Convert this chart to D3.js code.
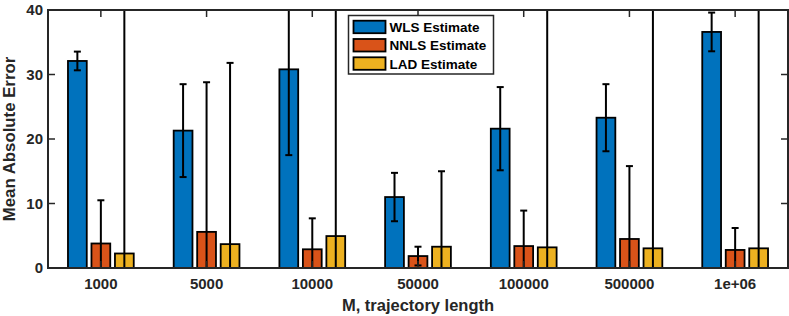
<!DOCTYPE html>
<html>
<head>
<meta charset="utf-8">
<script src="https://cdn.jsdelivr.net/npm/d3@7"></script>
<style>
  html, body { margin: 0; padding: 0; background: #fff; }
  svg { display: block; font-family: "Liberation Sans", Arial, sans-serif; font-weight: bold; }
</style>
</head>
<body>
<div id="chart"></div>
<script>
// M, trajectory length
const categories = ['1000', '5000', '10000', '50000', '100000', '500000', '1e+06'];
const seriesNames = ['WLS Estimate', 'NNLS Estimate', 'LAD Estimate'];
const wlsValues = [32.1, 21.3, 30.8, 11.0, 21.6, 23.3, 36.6];
const wlsErrors = [1.45, 7.2, 13.3, 3.75, 6.45, 5.2, 3.0];
const nnlsValues = [3.8, 5.6, 2.9, 1.85, 3.4, 4.5, 2.8];
const nnlsErrors = [6.7, 23.2, 4.8, 1.45, 5.5, 11.3, 3.4];
const ladValues = [2.25, 3.7, 4.95, 3.3, 3.2, 3.05, 3.05];
const ladErrors = [45, 28.1, 42, 11.7, 44, 46, 48];
const yTicks = [0, 10, 20, 30, 40];
const colors = ['#0072BD', '#D95319', '#EDB120'];

(function() {
  'use strict';

  const W = 789, H = 316;
  const left = 48, right = 788, top = 10, bottom = 268;
  const axisColor = '#262626';

  const svg = d3.select('#chart').append('svg')
    .attr('width', W)
    .attr('height', H);

  const x0 = d3.scaleBand().domain(categories).range([left, right]).padding(0);
  const bw = x0.bandwidth();
  const groupW = bw * 2 / 3;
  const x1 = d3.scaleBand().domain(seriesNames).range([-groupW / 2, groupW / 2])
    .paddingInner(0.2).paddingOuter(0.1);
  const y = d3.scaleLinear().domain([0, 40]).range([bottom, top]);

  const allValues = [wlsValues, nnlsValues, ladValues];
  const allErrors = [wlsErrors, nnlsErrors, ladErrors];

  const data = [];
  categories.forEach((c, i) => {
    seriesNames.forEach((s, j) => {
      data.push({ cat: c, series: s, idx: j, v: allValues[j][i], e: allErrors[j][i] });
    });
  });

  svg.append('clipPath').attr('id', 'plot-clip')
    .append('rect')
    .attr('x', left).attr('y', top)
    .attr('width', right - left).attr('height', bottom - top);

  // 柱子
  svg.append('g').selectAll('rect')
    .data(data)
    .enter().append('rect')
    .attr('x', d => x0(d.cat) + bw / 2 + x1(d.series))
    .attr('y', d => y(d.v))
    .attr('width', x1.bandwidth())
    .attr('height', d => y(0) - y(d.v))
    .attr('fill', d => colors[d.idx])
    .attr('stroke', '#000')
    .attr('stroke-width', 1.8);

  // 误差棒
  const eb = svg.append('g').attr('clip-path', 'url(#plot-clip)')
    .attr('stroke', '#000').attr('stroke-width', 2);
  const cx = d => x0(d.cat) + bw / 2 + x1(d.series) + x1.bandwidth() / 2;
  const capW = 3.5;
  eb.selectAll('.eb-line').data(data).enter().append('line')
    .attr('x1', cx).attr('x2', cx)
    .attr('y1', d => y(d.v - d.e)).attr('y2', d => y(d.v + d.e));
  eb.selectAll('.eb-top').data(data).enter().append('line')
    .attr('x1', d => cx(d) - capW).attr('x2', d => cx(d) + capW)
    .attr('y1', d => y(d.v + d.e)).attr('y2', d => y(d.v + d.e));
  eb.selectAll('.eb-bot').data(data).enter().append('line')
    .attr('x1', d => cx(d) - capW).attr('x2', d => cx(d) + capW)
    .attr('y1', d => y(d.v - d.e)).attr('y2', d => y(d.v - d.e));

  // 坐标轴
  const ax = svg.append('g').attr('stroke', axisColor).attr('stroke-width', 1.5);
  const tickLen = 7;
  categories.forEach(c => {
    const px = x0(c) + bw / 2;
    ax.append('line').attr('x1', px).attr('x2', px).attr('y1', top).attr('y2', top + tickLen);
    ax.append('line').attr('x1', px).attr('x2', px).attr('y1', bottom).attr('y2', bottom - tickLen);
  });
  yTicks.forEach(t => {
    ax.append('line').attr('x1', left).attr('x2', left + tickLen).attr('y1', y(t)).attr('y2', y(t));
    ax.append('line').attr('x1', right).attr('x2', right - tickLen).attr('y1', y(t)).attr('y2', y(t));
  });
  svg.append('rect')
    .attr('x', left).attr('y', top)
    .attr('width', right - left).attr('height', bottom - top)
    .attr('fill', 'none').attr('stroke', axisColor).attr('stroke-width', 2);

  // 刻度标签
  svg.append('g').selectAll('text').data(categories).enter().append('text')
    .attr('x', c => x0(c) + bw / 2)
    .attr('y', 288.5)
    .attr('text-anchor', 'middle')
    .attr('font-size', '15px')
    .attr('fill', axisColor)
    .text(c => c);
  svg.append('g').selectAll('text').data(yTicks).enter().append('text')
    .attr('x', left - 5)
    .attr('y', t => y(t))
    .attr('dy', '0.35em')
    .attr('text-anchor', 'end')
    .attr('font-size', '15px')
    .attr('fill', axisColor)
    .text(t => t);

  // 轴标题
  svg.append('text')
    .attr('x', (left + right) / 2)
    .attr('y', 311)
    .attr('text-anchor', 'middle')
    .attr('font-size', '16.5px')
    .attr('fill', axisColor)
    .text('M, trajectory length');
  svg.append('text')
    .attr('transform', `translate(15, ${(top + bottom) / 2}) rotate(-90)`)
    .attr('text-anchor', 'middle')
    .attr('font-size', '16.8px')
    .attr('fill', axisColor)
    .text('Mean Absolute Error');

  // 图例
  const lg = svg.append('g');
  lg.append('rect')
    .attr('x', 348.5).attr('y', 15.5)
    .attr('width', 145).attr('height', 58.5)
    .attr('fill', '#fff').attr('stroke', axisColor).attr('stroke-width', 1.5);
  seriesNames.forEach((s, j) => {
    const ry = 20.7 + j * 18.3;
    lg.append('rect')
      .attr('x', 353.5).attr('y', ry)
      .attr('width', 32).attr('height', 12.5)
      .attr('fill', colors[j]).attr('stroke', '#000').attr('stroke-width', 1.8);
    lg.append('text')
      .attr('x', 389.5).attr('y', ry + 6.5)
      .attr('dy', '0.35em')
      .attr('font-size', '13.5px')
      .attr('fill', '#000')
      .text(s);
  });
})();
</script>
</body>
</html>
